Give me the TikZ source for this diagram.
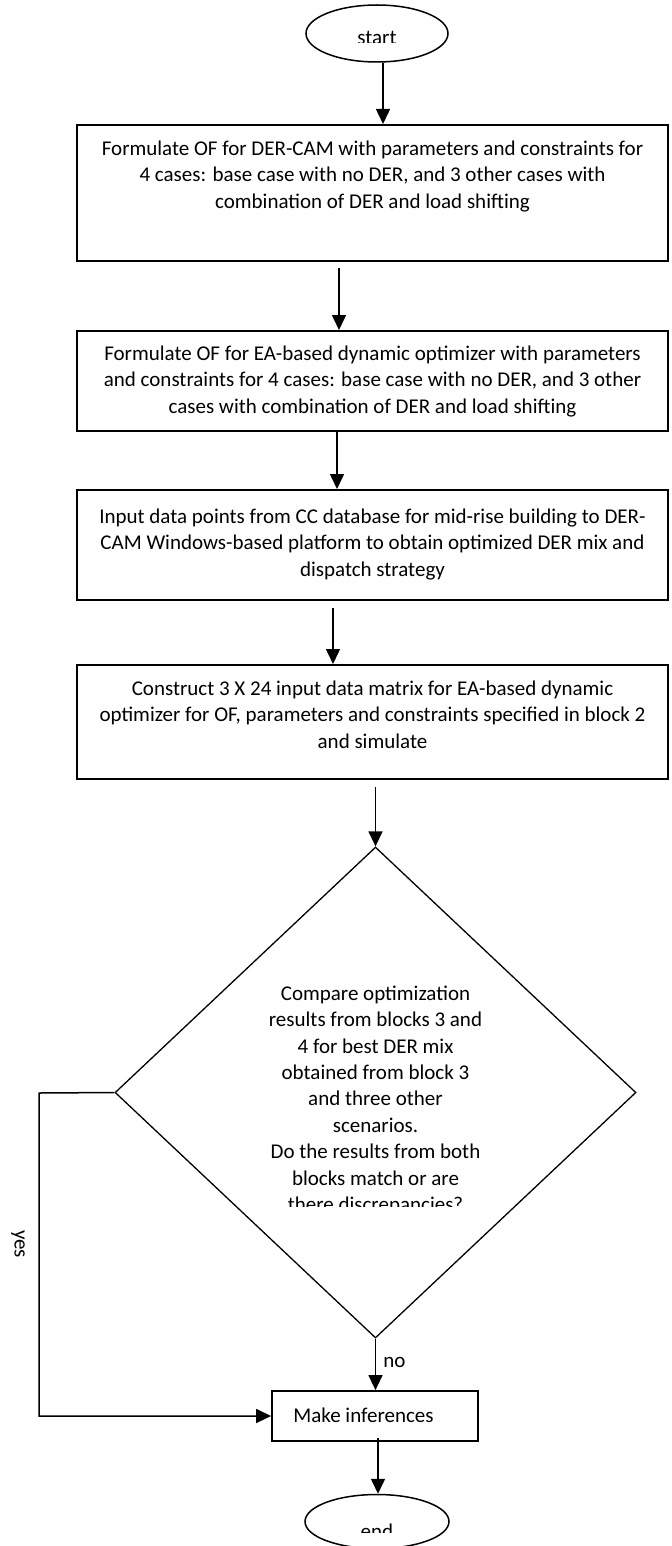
\documentclass[tikz,border=0pt]{standalone}
\usepackage{fontspec}
\setmainfont{Carlito}
\usetikzlibrary{arrows.meta,shapes.geometric}
\tikzset{
  boxnode/.style={draw, line width=1pt, minimum width=295.5pt, inner sep=0pt},
  ovalnode/.style={draw, ellipse, line width=0.75pt, inner sep=0pt},
  txt/.style={font=\fontsize{10.5pt}{13.2pt}\selectfont, align=center, inner sep=0pt},
  arr/.style={line width=0.75pt, -{Triangle[length=7.5pt,width=7pt]}},
}
\begin{document}
\begin{tikzpicture}[x=0.5pt,y=-0.5pt]
\useasboundingbox (0,0) rectangle (672,1546);
% shapes
\node[ovalnode, minimum width=71pt, minimum height=28.5pt] (start) at (377,33.5) {};
\node[boxnode, minimum height=68pt] (box1) at (372.5,193) {};
\node[boxnode, minimum height=50pt] (box2) at (372.5,381) {};
\node[boxnode, minimum height=55pt] (box3) at (372.5,545) {};
\node[boxnode, minimum height=57pt] (box4) at (372.5,722) {};
\node[draw, diamond, line width=0.65pt, inner sep=0pt, minimum width=260.5pt, minimum height=245.5pt] (dia) at (375.5,1092.5) {};
\node[draw, line width=0.9pt, minimum width=103pt, minimum height=25pt, inner sep=0pt] (infer) at (375,1416) {};
\node[ovalnode, minimum width=72pt, minimum height=27pt] (stop) at (377,1521.5) {};
\coordinate (yc) at (39,1093);
% texts
\begin{scope}
  \clip (320,0) rectangle (440,43);
  \node[txt, anchor=base] (tstart) at (377,45) {start};
\end{scope}
\node[txt, anchor=north] (t1) at (372.5,136.5) {\strut Formulate OF for DER-CAM with parameters and constraints for\\4 cases: base case with no DER, and 3 other cases with\\combination of DER and load shifting};
\node[txt, anchor=north] (t2) at (372.5,341.5) {\strut Formulate OF for EA-based dynamic optimizer with parameters\\and constraints for 4 cases: base case with no DER, and 3 other\\cases with combination of DER and load shifting};
\node[txt, anchor=north] (t3) at (372.5,504.5) {\strut Input data points from CC database for mid-rise building to DER-\\CAM Windows-based platform to obtain optimized DER mix and\\dispatch strategy};
\node[txt, anchor=north] (t4) at (372.5,676.5) {\strut Construct 3 X 24 input data matrix for EA-based dynamic\\optimizer for OF, parameters and constraints specified in block 2\\and simulate};
\begin{scope}
  \clip (200,960) rectangle (560,1206);
  \node[txt, anchor=north] (tdia) at (375.5,981.5) {\strut Compare optimization\\results from blocks 3 and\\4 for best DER mix\\obtained from block 3\\and three other\\scenarios.\\Do the results from both\\blocks match or are\\there discrepancies?};
\end{scope}
\node[txt, anchor=base west] (tinfer) at (293,1422) {Make inferences};
\begin{scope}
  \clip (320,1490) rectangle (440,1532);
  \node[txt, anchor=base] (tstop) at (377,1538) {end};
\end{scope}
\node[txt, rotate=-90] (tyes) at (18,1244) {yes};
\node[txt, anchor=base west] (tno) at (383,1367) {no};
% connectors
\draw[arr] ([xshift=3pt]start.south) -- ([xshift=3pt]start.south |- box1.north);
\draw[arr, shorten <=3pt] ([xshift=-16.75pt]box1.south) -- ([xshift=-16.75pt]box2.north);
\draw[arr] ([xshift=-17.75pt]box2.south) -- ([xshift=-17.75pt]box3.north);
\draw[arr, shorten <=3.5pt] ([xshift=-19.75pt]box3.south) -- ([xshift=-19.75pt]box4.north);
\draw[arr, shorten <=3.5pt] (box4.south -| dia.north) -- (dia.north);
\draw[arr] (dia.south) -- (dia.south |- infer.north);
\draw[arr, shorten <=-2pt] ([xshift=1.5pt]infer.south) -- ([xshift=1.5pt]infer.south |- stop.north);
\draw[arr] (dia.west) -- (yc) |- (infer.west);
\end{tikzpicture}
\end{document}
